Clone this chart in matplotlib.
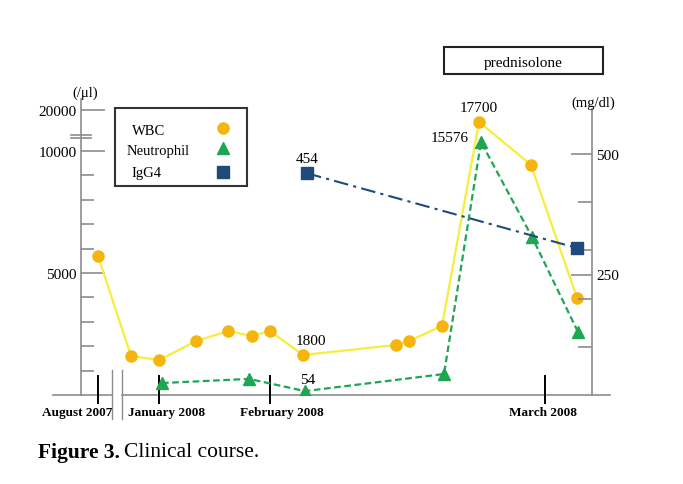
import numpy as np
import matplotlib
matplotlib.use("Agg")
import matplotlib.pyplot as plt
from matplotlib.patches import Rectangle
from matplotlib.lines import Line2D

# ---------------- data ----------------
wbc_x = [17, 50, 78, 115, 147, 171, 189, 222, 315, 328, 361, 398, 450, 496]
wbc_y = [5700, 1600, 1430, 2210, 2620, 2420, 2620, 1640, 2050, 2210, 2830, 17100, 9430, 3980]

neu_x = [81, 168, 224, 363, 400, 451, 497]
neu_y = [490, 660, 160, 860, 12200, 6480, 2580]

igg_x = [226, 496]
igg_y = [460, 305]

month_labels = ["August 2007", "January 2008", "February 2008", "March 2008"]
month_tick_x = [17, 78, 189, 464]
month_label_x = [-4, 86, 201, 462]

left_major = [5000, 10000, 20000]
left_major_labels = ["5000", "10000", "20000"]
left_minor = [1000, 2000, 3000, 4000, 6000, 7000, 8000, 9000]
right_major = [250, 500]
right_minor = [100, 200, 300, 400]

annotations = [  # (text, series, index)
    ("17700", "wbc", 11),
    ("1800", "wbc", 7),
    ("15576", "neu", 4),
    ("54", "neu", 2),
    ("454", "igg", 0),
]

# ---------------- style ----------------
W, H = 683, 485
SERIF = ["Liberation Serif", "DejaVu Serif"]
plt.rcParams["font.family"] = SERIF
GRAY = "#8c8c8c"
C_WBC_LINE = "#f5ee3c"
C_WBC_PT = "#f5b50c"
C_NEU = "#1ea653"
C_IGG = "#1f4a7c"

K = 4.1 / 24.4  # compression above 10000


def fwd(v):
    v = np.asarray(v, dtype=float)
    return np.where(v <= 10000, v, 10000 + (v - 10000) * K)


def inv(t):
    t = np.asarray(t, dtype=float)
    return np.where(t <= 10000, t, 10000 + (t - 10000) / K)


def fx(px):
    return px / W


def fy(py):
    return 1 - py / H


fig = plt.figure(figsize=(W / 100, H / 100), dpi=100)
fig.patch.set_facecolor("white")

ax_l, ax_r, ax_b, ax_t = 81, 592, 396, 100
ax = fig.add_axes([fx(ax_l), fy(ax_b), (ax_r - ax_l) / W, (ax_b - ax_t) / H])
ax.set_yscale("function", functions=(fwd, inv))
top_t = (ax_b - ax_t) / 24.4 * 1000
ax.set_ylim(0, float(inv(top_t)))
ax.set_xlim(0, ax_r - ax_l)
ax.patch.set_alpha(0)

ax2 = ax.twinx()
ax2.set_ylim(0, (ax_b - ax_t) / 0.482)

for a in (ax, ax2):
    for s in ("top", "bottom"):
        a.spines[s].set_visible(False)
ax.spines["right"].set_visible(False)
ax2.spines["left"].set_visible(False)
ax.spines["left"].set_color(GRAY)
ax.spines["left"].set_linewidth(1.2)
ax2.spines["right"].set_color(GRAY)
ax2.spines["right"].set_linewidth(1.2)
ax2.spines["right"].set_bounds(0, (ax_b - 110) / 0.482)

ax.set_xticks([])
ax.yaxis.set_ticks(left_major)
ax.yaxis.set_ticklabels(left_major_labels)
ax.yaxis.set_ticks(left_minor, minor=True)
ax.tick_params(axis="y", which="major", direction="in", length=17, width=1.2,
               color=GRAY, labelsize=11, pad=3)
ax.tick_params(axis="y", which="minor", direction="in", length=9, width=1.2,
               color=GRAY)

ax2.yaxis.set_ticks(right_major)
ax2.yaxis.set_ticklabels([str(v) for v in right_major])
ax2.yaxis.set_ticks(right_minor, minor=True)
ax2.tick_params(axis="y", which="major", direction="in", length=15, width=1.2,
                color=GRAY, labelsize=11, pad=3)
ax2.tick_params(axis="y", which="minor", direction="in", length=10, width=1.2,
                color=GRAY)

# baseline with break
ax.plot([-28, 31], [0, 0], color=GRAY, lw=1.2, clip_on=False)
ax.plot([41, 529], [0, 0], color=GRAY, lw=1.2, clip_on=False)
for bx in (31, 41):
    ax.plot([bx, bx], [-980, 1020], color=GRAY, lw=1.0, clip_on=False)

# left-axis break marks
for dpx in (16, 13):
    yb = float(inv(10000 + dpx / 24.4 * 1000))
    ax.plot([-10, 10], [yb, yb], color=GRAY, lw=1.2, clip_on=False)

# month ticks and labels
for mx, lx, ml in zip(month_tick_x, month_label_x, month_labels):
    ax.plot([mx, mx], [-330, 780], color="black", lw=1.4, clip_on=False)
    ax.text(lx, -700, ml, ha="center", va="center", fontsize=9.5,
            fontweight="bold", clip_on=False)

# series
ax.plot(wbc_x, wbc_y, color=C_WBC_LINE, lw=1.6, zorder=3)
ax.plot(wbc_x, wbc_y, ls="none", marker="o", ms=8, color=C_WBC_PT, zorder=4)
ax.plot(neu_x, neu_y, color=C_NEU, lw=1.6, ls=(0, (3, 1.6)), zorder=3)
ax.plot(neu_x, neu_y, ls="none", marker="^", ms=9, color=C_NEU, zorder=4)
ax2.plot(igg_x, igg_y, color=C_IGG, lw=1.5, ls=(0, (7, 2.5, 1.5, 2.5)), zorder=3)
ax2.plot(igg_x, igg_y, ls="none", marker="s", ms=8, color=C_IGG, zorder=4)

# annotations
offsets = {"17700": (0, 14), "1800": (8, 14), "15576": (-31, 4),
           "54": (3, 12), "454": (0, 15)}
for txt, ser, i in annotations:
    if ser == "wbc":
        a, xx, yy = ax, wbc_x[i], wbc_y[i]
    elif ser == "neu":
        a, xx, yy = ax, neu_x[i], neu_y[i]
    else:
        a, xx, yy = ax2, igg_x[i], igg_y[i]
    dx, dy = offsets[txt]
    a.annotate(txt, (xx, yy), xytext=(dx, dy), textcoords="offset pixels",
               ha="center", va="center", fontsize=11)

# axis unit labels
fig.text(fx(85), fy(93), "(/μl)", ha="center", va="center", fontsize=10.5)
fig.text(fx(593), fy(103), "(mg/dl)", ha="center", va="center", fontsize=10.5)

# legend box
fig.add_artist(Rectangle((fx(115), fy(187)), (247 - 115) / W, (187 - 109) / H,
                         transform=fig.transFigure, fill=False,
                         edgecolor="#333333", lw=1.5))
leg = [("WBC", 132, 132, "o", C_WBC_PT, 8, 129),
       ("Neutrophil", 127, 152, "^", C_NEU, 9, 149),
       ("IgG4", 131, 174, "s", C_IGG, 8, 173)]
for txt, tx, ty, mk, col, ms, my in leg:
    fig.text(fx(tx), fy(ty), txt, ha="left", va="center", fontsize=10.5)
    fig.add_artist(Line2D([fx(223)], [fy(my)], marker=mk, color=col, ms=ms,
                          ls="none", transform=fig.transFigure))

# prednisolone box
fig.add_artist(Rectangle((fx(444), fy(75)), (603 - 444) / W, (75 - 48) / H,
                         transform=fig.transFigure, fill=False,
                         edgecolor="#222222", lw=1.5))
fig.text(fx(523), fy(64), "prednisolone", ha="center", va="center", fontsize=11)

# caption
t1 = fig.text(fx(38), fy(453), "Figure 3.", ha="left", va="center",
              fontsize=15.5, fontweight="bold")
fig.canvas.draw()
bb = t1.get_window_extent()
fig.text(bb.x1 / W + 4 / W, fy(453), "Clinical course.", ha="left", va="center",
         fontsize=15.5)

fig.savefig("out.png", dpi=100, facecolor="white")
